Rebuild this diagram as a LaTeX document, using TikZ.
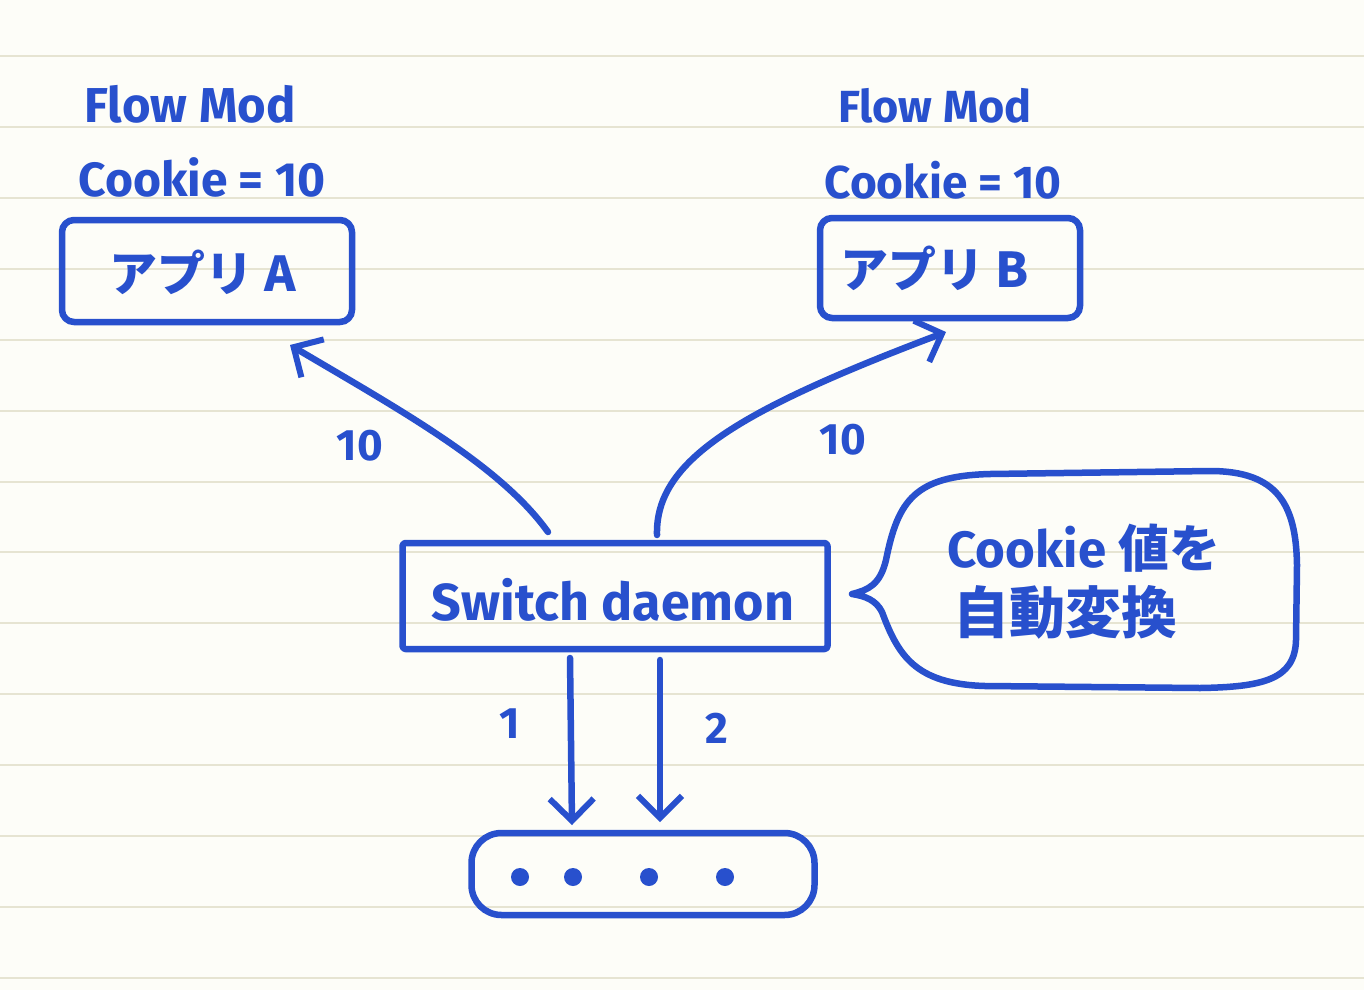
\documentclass[tikz,border=0pt]{standalone}
\usepackage{fontspec}
\setmainfont{Fira Sans}
\newfontfamily\jp{Noto Sans CJK JP}
\usetikzlibrary{arrows.meta}
\definecolor{ink}{RGB}{40,80,205}
\definecolor{paper}{RGB}{253,253,248}
\definecolor{rule}{RGB}{230,228,210}
\begin{document}
\begin{tikzpicture}[x=1pt,y=-1pt,
  inkline/.style={draw=ink,line width=6.5pt,line cap=round,line join=round},
  arr/.style={inkline,-{Straight Barb[length=22pt,width=44pt,line width=6pt]}},
  lab/.style={text=ink,font=\bfseries\fontsize{44}{48}\selectfont},
  jlab/.style={text=ink,font=\jp\bfseries\fontsize{48}{52}\selectfont},
  boxed/.style={inkline,rounded corners=12pt,inner sep=0pt}]
\useasboundingbox (0,0) rectangle (1364,990);
\fill[paper] (0,0) rectangle (1364,990);
\foreach \y in {56,127,198,269,340,411,482,552,623,694,765,836,907,978}
  \draw[rule,line width=1.5pt] (0,\y) -- (1364,\y);

% labels above boxes
\node[lab,font=\bfseries\fontsize{49}{52}\selectfont] (fmA) at (190,104) {Flow Mod};
\node[lab,font=\bfseries\fontsize{48}{50}\selectfont] (ckA) at (202,177) {Cookie = 10};
\node[lab,font=\bfseries\fontsize{45}{50}\selectfont] (fmB) at (935,106) {Flow Mod};
\node[lab,font=\bfseries\fontsize{46}{50}\selectfont] (ckB) at (943,180) {Cookie = 10};

% app boxes
\node[boxed,minimum width=290pt,minimum height=102pt] (A) at (207,271) {};
\node[jlab] (At) at (203,272) {アプリ A};
\node[boxed,minimum width=260pt,minimum height=100pt] (B) at (950,268) {};
\node[jlab] (Bt) at (935,268) {アプリ B};

% switch daemon
\node[boxed,rounded corners=3pt,minimum width=425pt,minimum height=106pt] (S) at (615,596) {};
\node[lab,font=\bfseries\fontsize{52}{56}\selectfont] (St) at (613,600) {Switch daemon};

% bottom box
\node[boxed,rounded corners=30pt,minimum width=343pt,minimum height=82pt] (D) at (643,874) {};
\foreach \x/\n in {520/d1,573/d2,649/d3,725/d4}
  \fill[ink] (\x,877) circle (9pt) coordinate (\n);

% connector anchors
\coordinate (sA) at (548,532);
\coordinate (eA) at (290,345);
\coordinate (sB) at (657,535);
\coordinate (eB) at (946,332);
\coordinate (s1) at (570,658);
\coordinate (e1) at (572,825);
\coordinate (s2) at (660,660);
\coordinate (e2) at (660,822);

\draw[arr] (sA) .. controls (500,465) and (400,410) .. (eA);
\draw[arr] (sB) .. controls (655,460) and (740,410) .. (eB);
\draw[arr] (s1) -- (e1);
\draw[arr] (s2) -- (e2);

\node[lab] (l10a) at (360,446) {10};
\node[lab] (l10b) at (843,440) {10};
\node[lab] (l1) at (510,724) {1};
\node[lab] (l2) at (717,728) {2};

% speech bubble
\coordinate (tail) at (852,594);
\draw[inkline] (tail) .. controls (868,590) and (880,585) .. (886,560)
  .. controls (898,500) and (915,476) .. (990,474) -- (1210,471)
  .. controls (1278,471) and (1296,505) .. (1297,565) -- (1296,640)
  .. controls (1295,680) and (1262,687) .. (1200,688) -- (985,686)
  .. controls (915,684) and (898,655) .. (882,612)
  .. controls (876,600) and (865,596) .. (tail);
\node[lab,anchor=west,font=\bfseries\fontsize{51}{54}\selectfont] (bub1) at (944,548) {Cookie {\jp 値を}};
\node[jlab,anchor=west,font=\jp\bfseries\fontsize{56}{60}\selectfont] (bub2) at (950,612) {自動変換};
\end{tikzpicture}
\end{document}
